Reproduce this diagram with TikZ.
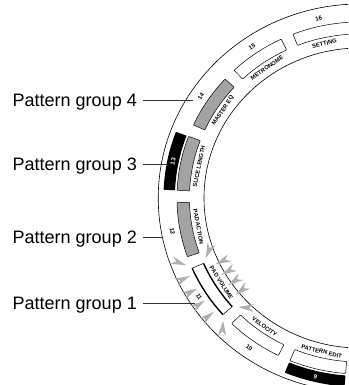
\documentclass[tikz,border=0pt]{standalone}
\usepackage{fontspec}
\setmainfont{Liberation Sans}
\usetikzlibrary{positioning}
\definecolor{padgray}{RGB}{163,163,163}
\definecolor{glowgray}{RGB}{175,175,175}
\begin{document}
\begin{tikzpicture}[x=1pt,y=1pt,
  groupname/.style={inner sep=0pt,font=\fontsize{18}{20}\selectfont},
  leader/.style={line width=0.6pt,draw=black!80},
  ringline/.style={line width=0.6pt},
  padnum/.style={inner sep=0pt,font=\fontsize{6}{7}\selectfont\bfseries},
  padlabel/.style={inner sep=0pt,font=\fontsize{5.8}{7}\selectfont\bfseries},
  padbox/.style={draw,line width=0.5pt,rounded corners=0.6pt,fill=#1},
  padbox/.default=white,
  glow/.style={fill=glowgray}
]
\useasboundingbox (0,0) rectangle (348,385);
\clip (0,0) rectangle (348,385);

%Ring of pads, centre off the right edge
\begin{scope}[shift={(360,187)},xscale=1.04]
\draw[ringline] (0,0) circle[radius=194];
\draw[ringline] (0,0) circle[radius=150];

%glow round pad 11
\foreach \a in {205.5,210,214.5,219}{
  \fill[glow,shift={(\a:181)},rotate=\a] (0,0) -- (15,-4) -- (10.5,0) -- (15,4) -- cycle;
  \fill[glow,shift={(\a:154)},rotate=\a+180] (0,0) -- (15,-4) -- (10.5,0) -- (15,4) -- cycle;
}
\fill[glow,shift={(202:180)},rotate=158.5] (0,0) -- (15,-4) -- (10.5,0) -- (15,4) -- cycle;
\fill[glow,shift={(202:160)},rotate=68.5] (0,0) -- (15,-4) -- (10.5,0) -- (15,4) -- cycle;
\fill[glow,shift={(223:180)},rotate=266.5] (0,0) -- (15,-4) -- (10.5,0) -- (15,4) -- cycle;
\fill[glow,shift={(223:160)},rotate=356.5] (0,0) -- (15,-4) -- (10.5,0) -- (15,4) -- cycle;

%Pads: number, box, name
\foreach \n/\a/\lab/\col/\dark in {9/256.5/PATTERN EDIT/white/1,
    10/234.5/VELOCITY/white/0, 11/212.5/PAD VOLUME/white/0,
    12/190.5/PAD ACTION/padgray/0, 13/168.5/SLICE LENGTH/padgray/1,
    14/146.5/MASTER EQ/padgray/0, 15/124.5/METRONOME/white/0,
    16/102.5/SETTING/white/0}{
  \pgfmathsetmacro\rot{\a<180 ? \a-90 : \a+90}
  \draw[padbox=\col] ({\a-9}:164) arc[start angle=\a-9,end angle=\a+9,radius=164]
    -- ({\a+9}:176) arc[start angle=\a+9,end angle=\a-9,radius=176] -- cycle;
  \ifnum\dark=1
    \fill[rounded corners=0.6pt] ({\a-9}:178) arc[start angle=\a-9,end angle=\a+9,radius=178]
      -- ({\a+9}:189) arc[start angle=\a+9,end angle=\a-9,radius=189] -- cycle;
    \node[padnum,rotate=\rot,text=white] (n\n) at (\a:183.5) {\n};
  \else
    \node[padnum,rotate=\rot] (n\n) at (\a:183.5) {\n};
  \fi
  \node[padlabel,rotate=\rot] (l\n) at (\a:158) {\lab};
}

%pad 11 is lit
\draw[line width=1.3pt] (203.5:164) arc[start angle=203.5,end angle=221.5,radius=164];
\draw[line width=1.3pt] (203.5:176) arc[start angle=203.5,end angle=221.5,radius=176];
\end{scope}

%Leaders
\coordinate (s4) at (143,285);
\coordinate (e4) at (193,285);
\coordinate (s3) at (143,221);
\coordinate (e3) at (167,221);
\coordinate (s2) at (143,148);
\coordinate (e2) at (163,148);
\coordinate (s1) at (143,82);
\coordinate (e1) at (195,82);

% Text Node
\node[groupname,left=6pt of s4,yshift=-1.8pt] (pg4) {Pattern group 4};
% Text Node
\node[groupname,left=6pt of s3,yshift=-1.8pt] (pg3) {Pattern group 3};
% Text Node
\node[groupname,left=6pt of s2,yshift=-1.8pt] (pg2) {Pattern group 2};
% Text Node
\node[groupname,left=6pt of s1,yshift=-1.8pt] (pg1) {Pattern group 1};

\draw[leader] (s4) -- (e4);
\draw[leader] (s3) -- (e3);
\draw[leader] (s2) -- (e2);
\draw[leader] (s1) -- (e1);

\end{tikzpicture}
\end{document}
